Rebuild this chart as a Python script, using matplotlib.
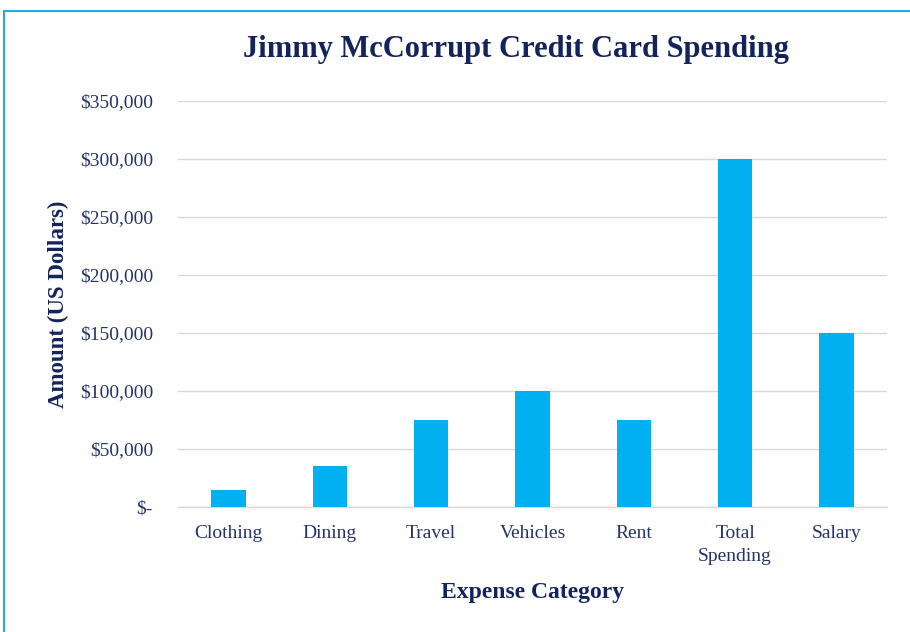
import matplotlib
matplotlib.use("Agg")
import matplotlib.pyplot as plt
from matplotlib.patches import Rectangle
from matplotlib.ticker import FuncFormatter

categories = ["Clothing", "Dining", "Travel", "Vehicles", "Rent", "Total\nSpending", "Salary"]
amounts = [15000, 35000, 75000, 100000, 75000, 300000, 150000]
yticks = [0, 50000, 100000, 150000, 200000, 250000, 300000, 350000]

navy = "#13235C"
tick_col = "#24336A"
bar_col = "#00B0F0"

plt.rcParams['font.family'] = ['Liberation Serif', 'DejaVu Serif']

fig = plt.figure(figsize=(9.10, 6.32), dpi=100)
ax = fig.add_axes([178/910, 1-507/632, (887-178)/910, (507-101)/632])

x = list(range(len(categories)))
ax.bar(x, amounts, width=0.34, color=bar_col, zorder=3)
ax.set_xlim(-0.5, len(categories)-0.5)
ax.set_ylim(0, 350000)
ax.set_yticks(yticks)

def fmt(v, pos):
    if v == 0:
        return "$-"
    return "${:,.0f}".format(v)
ax.yaxis.set_major_formatter(FuncFormatter(fmt))
ax.set_xticks(x)
ax.set_xticklabels(categories, linespacing=1.45)

ax.grid(axis='y', color='#D9D9D9', linewidth=1.0, zorder=0)
for s in ['top', 'right', 'left']:
    ax.spines[s].set_visible(False)
ax.spines['bottom'].set_color('#D9D9D9')
ax.spines['bottom'].set_linewidth(1.0)
ax.tick_params(axis='both', length=0, colors=tick_col, labelsize=14)
ax.tick_params(axis='y', pad=18)
ax.tick_params(axis='x', pad=13)

ax.set_xlabel("Expense Category", fontsize=17, fontweight='bold', color=navy, labelpad=12)
ax.set_ylabel("Amount (US Dollars)", fontsize=16.5, fontweight='bold', color=navy, labelpad=8)
fig.text(516/910, 1-49/632, "Jimmy McCorrupt Credit Card Spending", fontsize=22,
         fontweight='bold', color=navy, ha='center', va='center')

fig.patches.append(Rectangle((4/910, -0.05), 1.1, 1-11/632+0.05, transform=fig.transFigure,
                             fill=False, edgecolor='#29ABE2', linewidth=1.5))

fig.savefig("out.png", dpi=100, facecolor='white')
